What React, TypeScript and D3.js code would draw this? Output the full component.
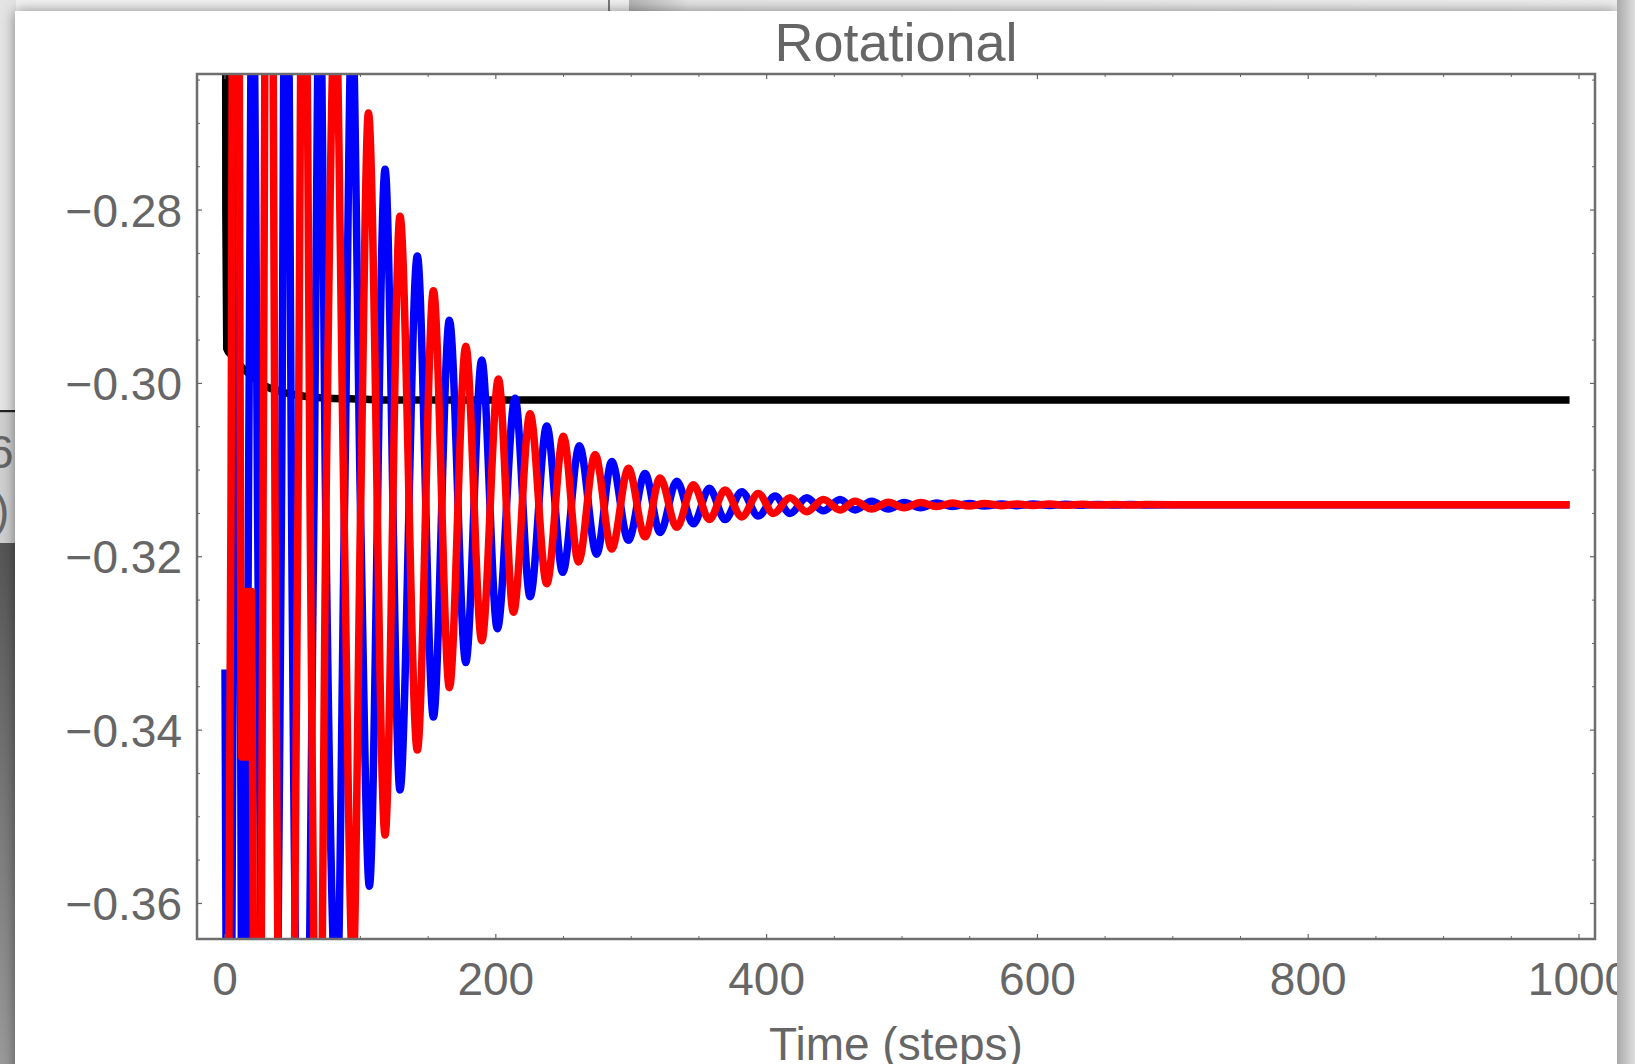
import React from 'react';
import * as d3 from 'd3';

// ---------- data ----------
const title = 'Rotational';
const xLabel = 'Time (steps)';
const xMajorTicks = [0, 200, 400, 600, 800, 1000];
const xMinorTicks = [50, 100, 150, 250, 300, 350, 450, 500, 550, 650, 700, 750, 850, 900, 950];
const yMajorTicks = [-0.36, -0.34, -0.32, -0.3, -0.28];
const yMinorTicks = [-0.355, -0.35, -0.345, -0.335, -0.33, -0.325, -0.315, -0.31, -0.305, -0.295, -0.29, -0.285, -0.275, -0.27, -0.265];

const blackSeries: [number, number][] = [
  [0, -0.18], [0.6, -0.28], [1.3, -0.296], [5, -0.2968], [11, -0.2979], [18.5, -0.299],
  [25, -0.2998], [31, -0.3004], [40, -0.3009], [48, -0.3012], [60, -0.3015], [77, -0.3017],
  [100, -0.3018], [120, -0.3019], [993, -0.3019],
];

const blueSeries: [number, number][] = [
  [0, -0.333], [3, -0.42], [6.5, -0.314], [8.8, -0.2657], [11, -0.314], [13.5, -0.42],
  [17.3, -0.314], [20.7, -0.24], [24, -0.314], [32.5, -0.43], [41.7, -0.314], [45.4, -0.22],
  [49.1, -0.314], [58, -0.41], [65.7, -0.314], [70, -0.25], [74.3, -0.314], [82.5, -0.372],
  [88.3, -0.314], [93.8, -0.257], [100, -0.314],
  [106.6, -0.358], [118.2, -0.2753], [129.2, -0.3469], [142, -0.2853], [153.9, -0.3385],
  [165.7, -0.2927], [177.8, -0.3322], [189.6, -0.2973], [201.1, -0.3283], [214.2, -0.3017],
  [225.3, -0.3246], [237.6, -0.3049], [249.4, -0.3218], [261.7, -0.3072], [274.5, -0.3197],
  [285.6, -0.309], [297.9, -0.3181], [310.2, -0.3104], [321.3, -0.3172], [333.6, -0.3113],
  [345.9, -0.3162], [357.7, -0.3121], [369.3, -0.3157], [381.6, -0.3125], [393.9, -0.3153],
  [406.2, -0.313], [417.3, -0.315], [429.6, -0.3132], [441.9, -0.3147], [454.2, -0.3134],
  [465.3, -0.3146], [477.6, -0.3136], [489.9, -0.3145], [501.5, -0.31375], [513.7, -0.31435],
  [525.5, -0.3138], [537.4, -0.3142], [549.5, -0.31385], [561, -0.31415], [573.5, -0.3139],
  [585, -0.3141], [597, -0.31392], [609, -0.31408], [621, -0.31394], [633, -0.31406],
  [645, -0.31396], [657, -0.31404], [669, -0.31398], [681, -0.31402], [700, -0.314], [993, -0.314],
];

const redSeries: [number, number][] = [
  [0, -0.46], [4.4, -0.314], [8, -0.12],
  [11.5, -0.324], [12.3, -0.3431], [13.1, -0.324], [13.9, -0.3431], [14.7, -0.324],
  [15.5, -0.3431], [16.3, -0.324], [17.1, -0.3431], [17.9, -0.324], [18.7, -0.3431], [19.5, -0.324],
  [20.8, -0.36], [23.5, -0.46], [28.1, -0.314], [32.5, -0.17], [36.9, -0.314], [45.4, -0.44],
  [53.9, -0.314], [58.3, -0.22], [62.8, -0.314], [69, -0.4], [74.6, -0.314], [81.5, -0.256],
  [87.8, -0.314], [94.5, -0.368], [100.2, -0.314],
  [105.9, -0.2688], [118.2, -0.3521], [129.2, -0.2807], [142, -0.3423], [153.9, -0.2893],
  [165.7, -0.3351], [177.8, -0.2957], [189.6, -0.3297], [201.9, -0.2995], [213, -0.3264],
  [225.3, -0.3035], [237.6, -0.3231], [249.9, -0.3061], [261, -0.3206], [273.3, -0.3082],
  [285.6, -0.3191], [297.9, -0.3098], [310.2, -0.3177], [321.3, -0.3109], [333.6, -0.3166],
  [345.9, -0.3117], [357.7, -0.3157], [369.3, -0.3123], [381.6, -0.3154], [393.9, -0.3127],
  [405, -0.315], [417.3, -0.3132], [429.6, -0.3148], [441.9, -0.3134], [454.2, -0.3146],
  [465.3, -0.3136], [477.6, -0.3145], [489.9, -0.3137], [501.5, -0.31435], [513.7, -0.31375],
  [525.5, -0.3142], [537.4, -0.3138], [549.5, -0.31415], [561, -0.31385], [573.5, -0.3141],
  [585, -0.3139], [597, -0.31408], [609, -0.31392], [621, -0.31406], [633, -0.31394],
  [645, -0.31404], [657, -0.31396], [669, -0.31402], [681, -0.31398], [700, -0.314], [993, -0.314],
];

// ---------- layout ----------
const W = 1635;
const H = 1064;
const plot = { left: 197, right: 1595, top: 74, bottom: 939 };
const FONT = '"Liberation Sans", Arial, Helvetica, sans-serif';
const GRAY = '#666666';

export default function App() {
  const x = d3.scaleLinear().domain([-20.7, 1011.8]).range([plot.left, plot.right]);
  const y = d3.scaleLinear().domain([-0.3641, -0.2643]).range([plot.bottom, plot.top]);
  const line = d3
    .line<[number, number]>()
    .x((d) => x(d[0]))
    .y((d) => y(d[1]))
    .curve(d3.curveMonotoneX);
  const fmt = d3.format('.2f');

  const series = [
    { data: blackSeries, color: '#000000' },
    { data: blueSeries, color: '#0000ff' },
    { data: redSeries, color: '#ff0000' },
  ];

  return (
    <svg
      width={W}
      height={H}
      style={{ position: 'absolute', left: 0, top: 0, display: 'block' }}
    >
      <defs>
        <clipPath id="plotClip">
          <rect x={plot.left} y={plot.top} width={plot.right - plot.left} height={plot.bottom - plot.top} />
        </clipPath>
        <filter id="winShadow" x="-5%" y="-5%" width="110%" height="110%">
          <feDropShadow dx="0" dy="0" stdDeviation="7" floodColor="#000" floodOpacity="0.45" />
        </filter>
        <linearGradient id="topBg" x1="0" y1="0" x2="0" y2="1">
          <stop offset="0" stopColor="#f3f3f3" />
          <stop offset="1" stopColor="#e2e2e2" />
        </linearGradient>
        <linearGradient id="rightBg" x1="0" y1="0" x2="1" y2="0">
          <stop offset="0" stopColor="#a9a9a9" />
          <stop offset="1" stopColor="#dedede" />
        </linearGradient>
        <linearGradient id="leftDark" x1="0" y1="0" x2="0" y2="1">
          <stop offset="0" stopColor="#555555" />
          <stop offset="1" stopColor="#9a9a9a" />
        </linearGradient>
        <linearGradient id="otherWin" x1="0" y1="0" x2="1" y2="0">
          <stop offset="0" stopColor="#b5b5b5" />
          <stop offset="0.06" stopColor="#e6e6e6" />
          <stop offset="1" stopColor="#efefef" />
        </linearGradient>
      </defs>

      {/* desktop / other windows */}
      <rect x={0} y={0} width={W} height={H} fill="url(#topBg)" />
      <rect x={629} y={0} width={W - 629} height={14} fill="url(#otherWin)" />
      <line x1={609} y1={0} x2={609} y2={12} stroke="#555" strokeWidth={1.5} />
      <rect x={0} y={0} width={16} height={411} fill="#e4e4e4" />
      <rect x={0} y={410} width={16} height={2.5} fill="#222" />
      <rect x={0} y={412.5} width={16} height={131} fill="#cfcfcf" />
      <text x={-12} y={468} fontFamily={FONT} fontSize={46} fill={GRAY}>6</text>
      <text x={-6} y={526} fontFamily={FONT} fontSize={46} fill={GRAY}>)</text>
      <rect x={0} y={543} width={16} height={H - 543} fill="url(#leftDark)" />

      {/* window */}
      <rect x={15} y={11} width={1602} height={H + 20} fill="#ffffff" filter="url(#winShadow)" />

      {/* title */}
      <text x={(plot.left + plot.right) / 2} y={60.5} textAnchor="middle" fontFamily={FONT} fontSize={54} fill={GRAY}>
        {title}
      </text>

      {/* series */}
      <g clipPath="url(#plotClip)">
        {series.map((s, i) => (
          <path key={i} d={line(s.data) || ''} fill="none" stroke={s.color} strokeWidth={7.5} strokeLinejoin="round" />
        ))}
      </g>

      {/* frame */}
      <rect
        x={plot.left}
        y={plot.top}
        width={plot.right - plot.left}
        height={plot.bottom - plot.top}
        fill="none"
        stroke="#6e6e6e"
        strokeWidth={2.5}
      />

      {/* x ticks */}
      {xMajorTicks.map((t) => (
        <g key={'xm' + t}>
          <line x1={x(t)} x2={x(t)} y1={plot.bottom} y2={plot.bottom - 5} stroke={GRAY} strokeWidth={1.2} />
          <line x1={x(t)} x2={x(t)} y1={plot.top} y2={plot.top + 5} stroke={GRAY} strokeWidth={1.2} />
          <text x={x(t)} y={995} textAnchor="middle" fontFamily={FONT} fontSize={46} fill={GRAY}>
            {t}
          </text>
        </g>
      ))}
      {xMinorTicks.map((t) => (
        <g key={'xn' + t}>
          <line x1={x(t)} x2={x(t)} y1={plot.bottom} y2={plot.bottom - 3} stroke={GRAY} strokeWidth={1} />
          <line x1={x(t)} x2={x(t)} y1={plot.top} y2={plot.top + 3} stroke={GRAY} strokeWidth={1} />
        </g>
      ))}

      {/* y ticks */}
      {yMajorTicks.map((t) => (
        <g key={'ym' + t}>
          <line x1={plot.left} x2={plot.left + 5} y1={y(t)} y2={y(t)} stroke={GRAY} strokeWidth={1.2} />
          <line x1={plot.right} x2={plot.right - 5} y1={y(t)} y2={y(t)} stroke={GRAY} strokeWidth={1.2} />
          <text x={182} y={y(t) + 16.5} textAnchor="end" fontFamily={FONT} fontSize={46} fill={GRAY}>
            {fmt(t)}
          </text>
        </g>
      ))}
      {yMinorTicks.map((t) => (
        <g key={'yn' + t}>
          <line x1={plot.left} x2={plot.left + 3} y1={y(t)} y2={y(t)} stroke={GRAY} strokeWidth={1} />
          <line x1={plot.right} x2={plot.right - 3} y1={y(t)} y2={y(t)} stroke={GRAY} strokeWidth={1} />
        </g>
      ))}

      {/* x axis label */}
      <text x={(plot.left + plot.right) / 2} y={1060} textAnchor="middle" fontFamily={FONT} fontSize={46} fill={GRAY}>
        {xLabel}
      </text>

      {/* right-hand desktop strip: the window edge cuts the last tick label */}
      <rect x={1617} y={0} width={W - 1617} height={H} fill="url(#rightBg)" />
    </svg>
  );
}
